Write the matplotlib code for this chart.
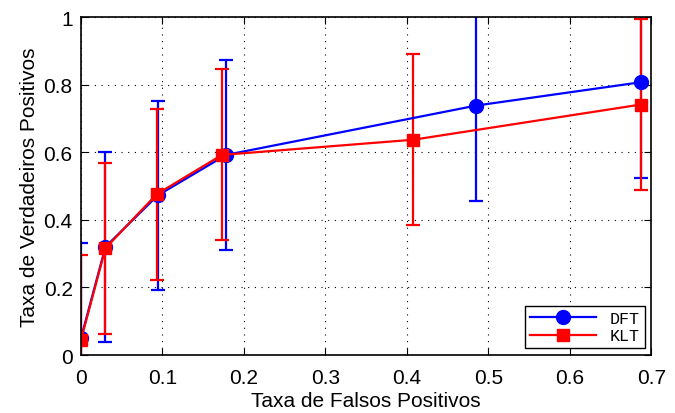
import numpy as np
import matplotlib.pyplot as plt
from matplotlib.lines import Line2D

# dados
fp_dft = [0.0, 0.030, 0.094, 0.178, 0.485, 0.687]
tp_dft = [0.050, 0.320, 0.472, 0.592, 0.738, 0.807]
err_dft = [0.280, 0.280, 0.280, 0.281, 0.282, 0.283]

fp_klt = [0.0, 0.030, 0.093, 0.173, 0.408, 0.687]
tp_klt = [0.045, 0.316, 0.476, 0.592, 0.637, 0.741]
err_klt = [0.252, 0.253, 0.253, 0.253, 0.253, 0.253]

plt.rcParams['font.family'] = ['Liberation Sans', 'DejaVu Sans']

fig = plt.figure(figsize=(6.75, 4.14), dpi=100)
ax = fig.add_axes([0.12, 0.14, 0.845, 0.8165])

ax.errorbar(fp_dft, tp_dft, yerr=err_dft, color='#0000ff', marker='o', markersize=10,
            linewidth=1.6, elinewidth=1.6, capsize=5, capthick=1.6)
ax.errorbar(fp_klt, tp_klt, yerr=err_klt, color='#ff0000', marker='s', markersize=9,
            linewidth=1.6, elinewidth=1.6, capsize=5, capthick=1.6)

ax.set_xlim(0, 0.7)
ax.set_ylim(0, 1)
ax.set_xticks(np.arange(0, 0.71, 0.1))
ax.set_xticklabels(['0', '0.1', '0.2', '0.3', '0.4', '0.5', '0.6', '0.7'])
ax.set_yticks(np.arange(0, 1.01, 0.2))
ax.set_yticklabels(['0', '0.2', '0.4', '0.6', '0.8', '1'])
ax.tick_params(direction='in', labelsize=15, length=5, top=True, right=True)
ax.tick_params(axis='x', pad=9)
ax.tick_params(axis='y', pad=6)
ax.grid(True, linestyle=(0, (1, 5)), color='black', linewidth=0.8)
for s in ax.spines.values():
    s.set_linewidth(1.2)

ax.set_xlabel('Taxa de Falsos Positivos', fontsize=15, labelpad=3)
ax.set_ylabel('Taxa de Verdadeiros Positivos', fontsize=15, labelpad=3)

handles = [Line2D([], [], color='#0000ff', marker='o', markersize=10, linewidth=1.6),
           Line2D([], [], color='#ff0000', marker='s', markersize=9, linewidth=1.6)]
leg = ax.legend(handles, ['DFT', 'KLT'], loc='lower right',
                prop={'family': ['Liberation Mono', 'DejaVu Sans Mono'], 'size': 12},
                fancybox=False, edgecolor='black', framealpha=1,
                handlelength=4.0, borderaxespad=0.4, labelspacing=0.15,
                borderpad=0.3)
leg.get_frame().set_linewidth(1.0)

fig.savefig('out.png', dpi=100)
